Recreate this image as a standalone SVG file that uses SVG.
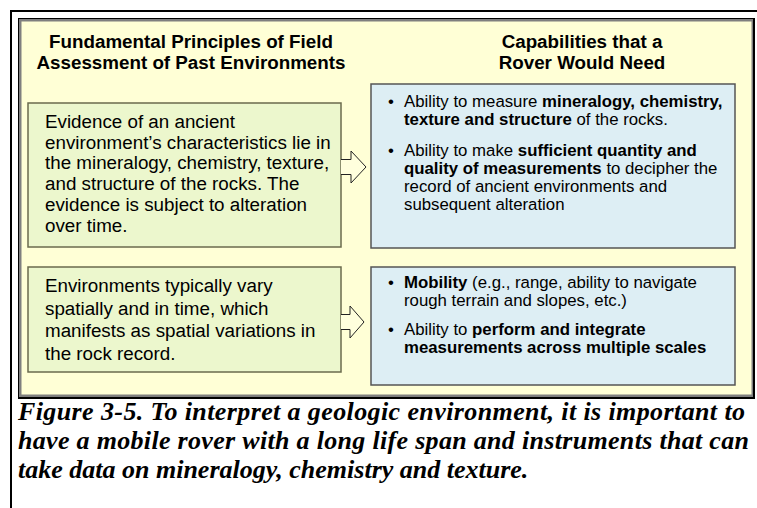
<svg xmlns="http://www.w3.org/2000/svg" width="757" height="508" viewBox="0 0 757 508">
<style>
.hdr{font-family:"Liberation Sans",Arial,sans-serif;font-weight:bold;font-size:18.8px;fill:#000;text-anchor:middle}
.gt{font-family:"Liberation Sans",Arial,sans-serif;font-size:18.8px;fill:#000}
.bt{font-family:"Liberation Sans",Arial,sans-serif;font-size:16.8px;fill:#000}
.b{font-weight:bold}
.green{fill:#ECF7CD;stroke:#6B6B4E;stroke-width:1.5}
.blue{fill:#DDEEF4;stroke:#555;stroke-width:1.5}
.arrow{fill:#FFFFDD;stroke:#222;stroke-width:1}
.cap{font-family:"Liberation Serif","Times New Roman",serif;font-weight:bold;font-style:italic;font-size:26px;fill:#000}
</style>
<rect x="0" y="0" width="757" height="508" fill="#fff"/>
<path d="M11,508 V11 H757" fill="none" stroke="#000" stroke-width="2"/>
<g id="frame">
<rect x="18" y="18" width="737" height="381" fill="#000"/>
<rect x="19" y="19" width="734" height="378" fill="#7F7F7F"/>
<rect x="21.5" y="21.5" width="730" height="373" fill="#FFFFD6"/>
</g>
<g id="hdr-left">
<text class="hdr" x="191" y="48">Fundamental Principles of Field</text>
<text class="hdr" x="191" y="69">Assessment of Past Environments</text>
</g>
<g id="hdr-right">
<text class="hdr" x="582" y="48">Capabilities that a</text>
<text class="hdr" x="582" y="69">Rover Would Need</text>
</g>
<g id="principle1">
<rect class="green" x="28" y="103" width="313" height="144"/>
<text class="gt" x="45"><tspan x="45" y="128">Evidence of an ancient</tspan><tspan x="45" y="148.7">environment’s characteristics lie in</tspan><tspan x="45" y="169.4">the mineralogy, chemistry, texture,</tspan><tspan x="45" y="190.1">and structure of  the rocks. The</tspan><tspan x="45" y="210.8">evidence is subject to alteration</tspan><tspan x="45" y="231.5">over time.</tspan></text>
</g>
<g id="principle2">
<rect class="green" x="28" y="267" width="313" height="105"/>
<text class="gt" x="45"><tspan x="45" y="292">Environments typically vary</tspan><tspan x="45" y="314.5">spatially and in time, which</tspan><tspan x="45" y="337">manifests as spatial variations in</tspan><tspan x="45" y="359.5">the rock record.</tspan></text>
</g>
<g id="capability1">
<rect class="blue" x="371" y="84" width="364" height="164"/>
<text class="bt" x="388" y="107">•</text>
<text class="bt" x="404" y="107">Ability to measure <tspan class="b">mineralogy, chemistry,</tspan></text>
<text class="bt" x="404" y="125"><tspan class="b">texture and structure</tspan> of the rocks.</text>
<text class="bt" x="388" y="156">•</text>
<text class="bt" x="404" y="156">Ability to make <tspan class="b">sufficient quantity and</tspan></text>
<text class="bt" x="404" y="174"><tspan class="b">quality of measurements</tspan> to decipher the</text>
<text class="bt" x="404" y="192">record of ancient environments and</text>
<text class="bt" x="404" y="210">subsequent alteration</text>
</g>
<g id="capability2">
<rect class="blue" x="371" y="267" width="364" height="118"/>
<text class="bt" x="388" y="288">•</text>
<text class="bt" x="404" y="288"><tspan class="b">Mobility</tspan> (e.g., range, ability to navigate</text>
<text class="bt" x="404" y="306">rough terrain and slopes, etc.)</text>
<text class="bt" x="388" y="335">•</text>
<text class="bt" x="404" y="335">Ability to <tspan class="b">perform and integrate</tspan></text>
<text class="bt" x="404" y="353"><tspan class="b">measurements across multiple scales</tspan></text>
</g>
<g id="connectors">
<path class="arrow" d="M341,159.5 H351 V151 L366,167 L351,183 V174.5 H341"/>
<path class="arrow" d="M341,314.5 H350 V306 L364,322 L350,338 V329.5 H341"/>
</g>
<g id="caption">
<text class="cap" x="18" y="420" textLength="727" lengthAdjust="spacing">Figure 3-5. To interpret a geologic environment, it is important to</text>
<text class="cap" x="18" y="449" textLength="731" lengthAdjust="spacing">have a mobile rover with a long life span and instruments that can</text>
<text class="cap" x="18" y="478">take data on mineralogy, chemistry and texture.</text>
</g>
</svg>
